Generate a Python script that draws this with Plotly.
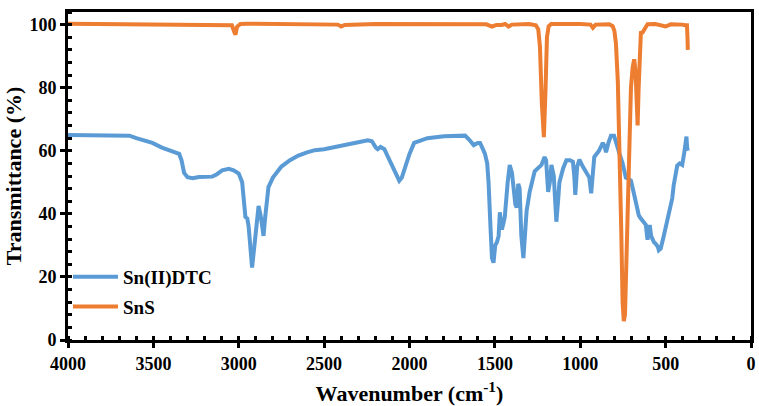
import plotly.graph_objects as go

# Sn(II)DTC spectrum (wavenumber cm-1, transmittance %)
dtc_wn = [4000, 3900, 3800, 3700, 3640, 3600, 3506, 3450, 3390, 3349, 3335, 3320, 3300, 3270,
          3233, 3190, 3155, 3130, 3097, 3058, 3030, 3000, 2980, 2961, 2950, 2942, 2930, 2922,
          2910, 2895, 2884, 2870, 2855, 2845, 2826, 2800, 2750, 2700, 2651, 2600, 2554, 2500,
          2457, 2400, 2360, 2300, 2244, 2220, 2197, 2186, 2170, 2147, 2130, 2109, 2080, 2060,
          2045, 2031, 2000, 1973, 1895, 1798, 1700, 1674, 1650, 1624, 1600, 1587, 1570, 1558,
          1545, 1537, 1525, 1517, 1508, 1498, 1488, 1478, 1471, 1465, 1459, 1450, 1442, 1425,
          1413, 1400, 1391, 1380, 1372, 1363, 1355, 1345, 1333, 1322, 1314, 1296, 1267, 1227,
          1215, 1209, 1200, 1188, 1178, 1169, 1155, 1140, 1130, 1122, 1100, 1081, 1060, 1043,
          1035, 1029, 1018, 1005, 985, 965, 947, 936, 925, 918, 890, 868, 858, 849, 835, 820,
          802, 791, 770, 752, 733, 715, 703, 688, 674, 657, 645, 628, 616, 606, 600, 593, 585,
          577, 568, 558, 545, 540, 529, 515, 500, 482, 461, 453, 432, 418, 403, 392, 384, 378,
          374, 370]
dtc_t = [65, 65, 65, 65, 64.8, 64, 62.5, 61, 59.8, 59, 57, 53, 51.6, 51.3,
         51.7, 51.8, 51.8, 52.5, 53.8, 54.3, 53.8, 52.8, 50, 39, 38.5, 36, 27, 23,
         29, 38, 42.5, 39, 33, 39, 48.5, 51.5, 55, 57, 58.5, 59.5, 60.2, 60.5,
         61, 61.8, 62.3, 62.7, 63.3, 63, 61, 60.5, 61.2, 60.5, 58.5, 56, 52.5, 50.5,
         51.5, 54, 59, 62.5, 64, 64.6, 65, 64.8, 63.5, 61.8, 62.5, 62.5, 60.5, 59,
         56, 50, 35, 26, 24.5, 30, 31, 33, 40.5, 37, 35, 37, 39, 50,
         55.5, 53, 48, 43, 42, 49.5, 48, 33, 26, 38, 41, 47, 53.5, 55.5,
         57, 58, 57, 47, 50, 55.5, 52, 37.5, 44, 50, 54.5, 57, 57, 56.5,
         52, 46, 55, 57.2, 55, 53.3, 51.5, 46.5, 52, 58, 60, 62.5, 61.5, 59.5, 62.5, 64.8,
         64.8, 62.5, 59, 56, 51.5, 51, 50.5, 47, 43.5, 39.5, 38.5, 37.5, 36.5, 31.8, 35, 36.5, 33,
         32, 31, 30.5, 29.5, 28.5, 29, 32, 36, 40, 45, 49, 55.3, 56, 55.5, 59, 63.5, 64.5,
         61, 60]

# SnS spectrum
sns_wn = [4000, 3800, 3500, 3100, 3040, 3025, 3019, 3010, 2990, 2950, 2700, 2420, 2400, 2380,
          2200, 2000, 1800, 1550, 1517, 1490, 1460, 1440, 1420, 1400, 1300, 1260, 1246, 1236,
          1225, 1213, 1203, 1195, 1185, 1170, 1000, 940, 926, 910, 830, 810, 800, 791, 780,
          771, 760, 752, 745, 738, 730, 723, 713, 703, 693, 684, 676, 670, 664, 658, 651, 645,
          635, 626, 606, 560, 530, 500, 470, 420, 403, 385, 375, 372, 370]
sns_t = [100.3, 100.2, 100.2, 100.1, 99.8, 97.5, 96.8, 99.3, 100.2, 100.3, 100.1, 100, 99.4, 99.9,
         100.2, 100.2, 100.2, 100.1, 99.4, 99.9, 99.9, 100.2, 99.4, 100, 100.2, 99.8, 98.5, 93,
         75, 64.3, 80, 96, 99.5, 100.2, 100.2, 100, 99, 100, 100.1, 99.5, 98, 94, 82,
         65, 35, 12, 6, 8, 25, 45, 65, 80, 86.5, 89, 85, 76, 68, 80, 93, 97.4,
         97.5, 98.5, 100.1, 100.2, 99.7, 99.4, 100.1, 100.2, 100, 99.8, 99.8, 96, 92]

x_ticks = [4000, 3500, 3000, 2500, 2000, 1500, 1000, 500, 0]
y_ticks = [0, 20, 40, 60, 80, 100]

FONT = "Liberation Serif"

fig = go.Figure()
fig.add_trace(go.Scatter(x=dtc_wn, y=dtc_t, mode="lines", name="Sn(II)DTC",
                         line=dict(color="#5B9BD5", width=4), legendgroup="a"))
fig.add_trace(go.Scatter(x=sns_wn, y=sns_t, mode="lines", name="SnS",
                         line=dict(color="#ED7D31", width=4), legendgroup="b"))

fig.update_layout(
    width=759, height=406,
    margin=dict(l=68, r=3, t=12, b=64),
    paper_bgcolor="white", plot_bgcolor="white",
    font=dict(family=FONT, size=18, color="black", weight="bold"),
    showlegend=True,
    legend=dict(x=0.0, y=0.25, xanchor="left", yanchor="top",
                bgcolor="rgba(0,0,0,0)", itemwidth=45, tracegroupgap=2,
                font=dict(family=FONT, size=19, color="black", weight="bold")),
)
fig.update_xaxes(
    range=[4000, 0], tickvals=x_ticks, showgrid=False, zeroline=False,
    showline=True, linecolor="black", linewidth=3, mirror=True,
    ticks="outside", ticklen=5, tickwidth=3, tickcolor="black",
    minor=dict(dtick=100, ticks="inside", ticklen=4, tickwidth=3, tickcolor="black", showgrid=False),
    tickfont=dict(family=FONT, size=18, color="black", weight="bold"),
    title=dict(text="Wavenumber (cm<sup>-1</sup>)", standoff=14,
               font=dict(family=FONT, size=22, color="black", weight="bold")),
)
fig.update_yaxes(
    range=[0, 104], tickvals=y_ticks, showgrid=False, zeroline=False,
    showline=True, linecolor="black", linewidth=3, mirror=True,
    ticks="outside", ticklen=5, tickwidth=3, tickcolor="black",
    minor=dict(dtick=4, ticks="inside", ticklen=4, tickwidth=3, tickcolor="black", showgrid=False),
    tickfont=dict(family=FONT, size=18, color="black", weight="bold"),
    title=dict(text="Transmittance (%)", standoff=2,
               font=dict(family=FONT, size=22, color="black", weight="bold")),
)

fig.write_html("out.html")
